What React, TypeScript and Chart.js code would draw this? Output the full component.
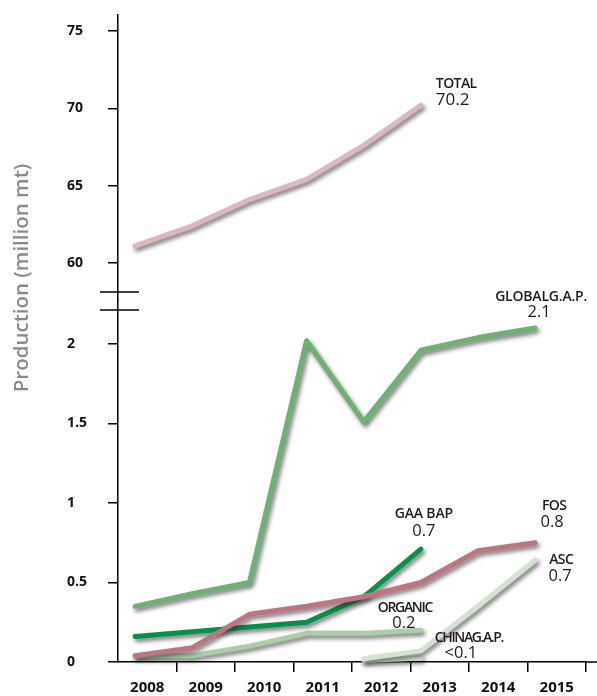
import { useEffect, useRef } from 'react';
import { Chart, registerables } from 'chart.js';

Chart.register(...registerables);

// ---------- data ----------
const yearLabels = ['2008', '2009', '2010', '2011', '2012', '2013', '2014', '2015'];

const totalYears = [2008, 2009, 2010, 2011, 2012, 2013];
const totalValues = [61.1, 62.4, 64.1, 65.4, 67.6, 70.2];

const globalGapYears = [2008, 2009, 2010, 2011, 2012, 2013, 2014, 2015];
const globalGapValues = [0.35, 0.43, 0.5, 2.02, 1.51, 1.96, 2.04, 2.1];

const gaaBapYears = [2008, 2009, 2010, 2011, 2012, 2013];
const gaaBapValues = [0.16, 0.19, 0.22, 0.25, 0.41, 0.71];

const fosYears = [2008, 2009, 2010, 2011, 2012, 2013, 2014, 2015];
const fosValues = [0.04, 0.09, 0.3, 0.35, 0.41, 0.5, 0.7, 0.75];

const organicYears = [2008, 2009, 2010, 2011, 2012, 2013];
const organicValues = [0.04, 0.04, 0.1, 0.18, 0.18, 0.2];

const ascYears = [2012, 2013, 2014, 2015];
const ascValues = [0.02, 0.07, 0.35, 0.64];

const chinaGapYears = [2012, 2013];
const chinaGapValues = [0.01, 0.025];

const upperTicks = [60, 65, 70, 75];
const lowerTicks = [0, 0.5, 1, 1.5, 2];

const yTitle = 'Production (million mt)';

// ---------- series (first drawn on top) ----------
const series = [
  { id: 'fos', name: 'FOS', valueText: '0.8', years: fosYears, values: fosValues, color: '#bf7482', axis: 'y' },
  { id: 'gaa', name: 'GAA BAP', valueText: '0.7', years: gaaBapYears, values: gaaBapValues, color: '#00924a', axis: 'y' },
  { id: 'glob', name: 'GLOBALG.A.P.', valueText: '2.1', years: globalGapYears, values: globalGapValues, color: '#6db173', axis: 'y' },
  { id: 'org', name: 'ORGANIC', valueText: '0.2', years: organicYears, values: organicValues, color: '#a9cea8', axis: 'y' },
  { id: 'asc', name: 'ASC', valueText: '0.7', years: ascYears, values: ascValues, color: '#d2e4d0', axis: 'y' },
  { id: 'china', name: 'CHINAG.A.P.', valueText: '<0.1', years: chinaGapYears, values: chinaGapValues, color: '#d2e4d0', axis: 'y' },
  { id: 'total', name: 'TOTAL', valueText: '70.2', years: totalYears, values: totalValues, color: '#dbb8bc', axis: 'yTop' },
];

// ---------- label layout (pixel offsets from each series' last point) ----------
const labelLayout: Record<string, { dx: number; dxV: number; dyN: number; dyV: number; align: CanvasTextAlign; ls: number; vs: number }> = {
  total: { dx: 15, dxV: 15, dyN: -21, dyV: -5, align: 'left', ls: -0.6, vs: 17 },
  glob: { dx: 6, dxV: 4, dyN: -31, dyV: -16, align: 'center', ls: -0.2, vs: 16.5 },
  gaa: { dx: 3, dxV: 3, dyN: -35, dyV: -18, align: 'center', ls: -0.2, vs: 16.5 },
  fos: { dx: 19, dxV: 17, dyN: -37, dyV: -20, align: 'center', ls: -0.7, vs: 16.5 },
  asc: { dx: 26, dxV: 25, dyN: 0, dyV: 16, align: 'center', ls: -0.6, vs: 16.5 },
  org: { dx: -16, dxV: -17, dyN: -22, dyV: -7, align: 'center', ls: -1.3, vs: 16.5 },
  china: { dx: 48, dxV: 40, dyN: -20, dyV: -5, align: 'center', ls: -1.4, vs: 16.5 },
};

const FONT = '"Open Sans", "DejaVu Sans", sans-serif';

const shadowPlugin = {
  id: 'lineShadow',
  beforeDatasetDraw(chart: any) {
    const ctx = chart.ctx;
    ctx.save();
    ctx.shadowColor = 'rgba(30,30,30,0.6)';
    ctx.shadowBlur = 4;
    ctx.shadowOffsetX = 2;
    ctx.shadowOffsetY = 3;
  },
  afterDatasetDraw(chart: any) {
    chart.ctx.restore();
  },
};

const decorPlugin = {
  id: 'decor',
  afterDraw(chart: any) {
    const ctx = chart.ctx;
    const area = chart.chartArea;
    const top = chart.scales.yTop;
    // extend x axis line to the right edge
    ctx.save();
    ctx.strokeStyle = '#000';
    ctx.lineWidth = 1.5;
    ctx.beginPath();
    ctx.moveTo(area.right - 1, area.bottom);
    ctx.lineTo(chart.width, area.bottom);
    ctx.stroke();
    // axis break marks
    const b = top.bottom;
    ctx.lineWidth = 1.3;
    ctx.beginPath();
    ctx.moveTo(area.left - 18, b - 9);
    ctx.lineTo(area.left + 21, b - 9);
    ctx.moveTo(area.left - 18, b + 9);
    ctx.lineTo(area.left + 21, b + 9);
    ctx.stroke();
    // y title
    ctx.translate(22, 278);
    ctx.rotate(-Math.PI / 2);
    ctx.fillStyle = '#8a8a8a';
    ctx.font = `600 20.5px ${FONT}`;
    ctx.textAlign = 'center';
    ctx.textBaseline = 'middle';
    ctx.fillText(yTitle, 0, 0);
    ctx.restore();
  },
  afterDatasetsDraw(chart: any) {
    const ctx = chart.ctx;
    const xs = chart.scales.xd;
    ctx.save();
    ctx.fillStyle = '#1e1b1c';
    ctx.textBaseline = 'middle';
    for (const s of series) {
      const L = labelLayout[s.id];
      const n = s.years.length - 1;
      const px = xs.getPixelForValue(s.years[n]);
      const py = chart.scales[s.axis].getPixelForValue(s.values[n]);
      ctx.textAlign = L.align;
      ctx.font = `600 14px ${FONT}`;
      (ctx as any).letterSpacing = `${L.ls}px`;
      ctx.fillText(s.name, px + L.dx, py + L.dyN);
      (ctx as any).letterSpacing = '0px';
      ctx.font = `500 ${L.vs}px ${FONT}`;
      ctx.fillText(s.valueText, px + L.dxV, py + L.dyV);
    }
    ctx.restore();
  },
};

export default function App() {
  const ref = useRef<HTMLCanvasElement | null>(null);

  useEffect(() => {
    if (!ref.current) return;
    const yCommon = (ticks: number[]) => ({
      type: 'linear' as const,
      position: 'left' as const,
      stack: 'ybreak',
      afterBuildTicks: (s: any) => {
        s.ticks = ticks.map((v) => ({ value: v }));
      },
      afterFit: (s: any) => {
        s.width = 51;
        s.paddingTop = 0;
        s.paddingBottom = 0;
      },
      grid: { drawOnChartArea: false, tickLength: 10, color: '#000', lineWidth: 1.5 },
      border: { display: true, color: '#000', width: 1.5 },
      ticks: {
        crossAlign: 'far' as const,
        color: '#111',
        padding: 0,
        font: { family: FONT, size: 14, weight: 700 as any },
        callback: (v: any) => String(v),
      },
    });

    const chart = new Chart(ref.current, {
      type: 'line',
      data: {
        datasets: series.map((s) => ({
          label: s.name,
          data: s.years.map((yr, i) => ({ x: yr, y: s.values[i] })),
          borderColor: s.color,
          backgroundColor: s.color,
          borderWidth: 5,
          pointRadius: 0,
          borderCapStyle: 'round' as const,
          borderJoinStyle: 'round' as const,
          tension: 0,
          fill: false,
          xAxisID: 'xd',
          yAxisID: s.axis,
          clip: false as any,
        })),
      },
      options: {
        animation: false,
        responsive: false,
        layout: { padding: { left: 67, right: 11, top: 15, bottom: 0 } },
        plugins: { legend: { display: false }, tooltip: { enabled: false }, title: { display: false } },
        scales: {
          x: {
            type: 'category',
            labels: yearLabels,
            position: 'bottom',
            offset: true,
            grid: {
              offset: true,
              drawOnChartArea: false,
              tickLength: 10,
              lineWidth: 1.5,
              color: (c: any) => (c.index === 0 || c.index === yearLabels.length ? 'rgba(0,0,0,0)' : '#000'),
            },
            border: { display: true, color: '#000', width: 1.5 },
            ticks: {
              color: '#111',
              padding: 7,
              maxRotation: 0,
              autoSkip: false,
              font: { family: FONT, size: 15, weight: 700 as any },
            },
            afterFit: (s: any) => {
              s.height = 34;
              s.paddingLeft = 0;
              s.paddingRight = 0;
            },
          },
          xd: { type: 'linear', display: false, min: 2007.7, max: 2015.89 },
          yTop: { ...yCommon(upperTicks), min: 57.54, max: 76.03, stackWeight: 286, weight: 1 },
          y: { ...yCommon(lowerTicks), min: 0, max: 2.27, stackWeight: 361, weight: 0 },
        } as any,
      },
      plugins: [shadowPlugin, decorPlugin],
    });
    return () => chart.destroy();
  }, []);

  return (
    <div style={{ position: 'absolute', left: 0, top: 0, width: 597, height: 696, background: '#fff' }}>
      <canvas ref={ref} width={597} height={696} style={{ display: 'block', width: 597, height: 696 }} />
    </div>
  );
}
